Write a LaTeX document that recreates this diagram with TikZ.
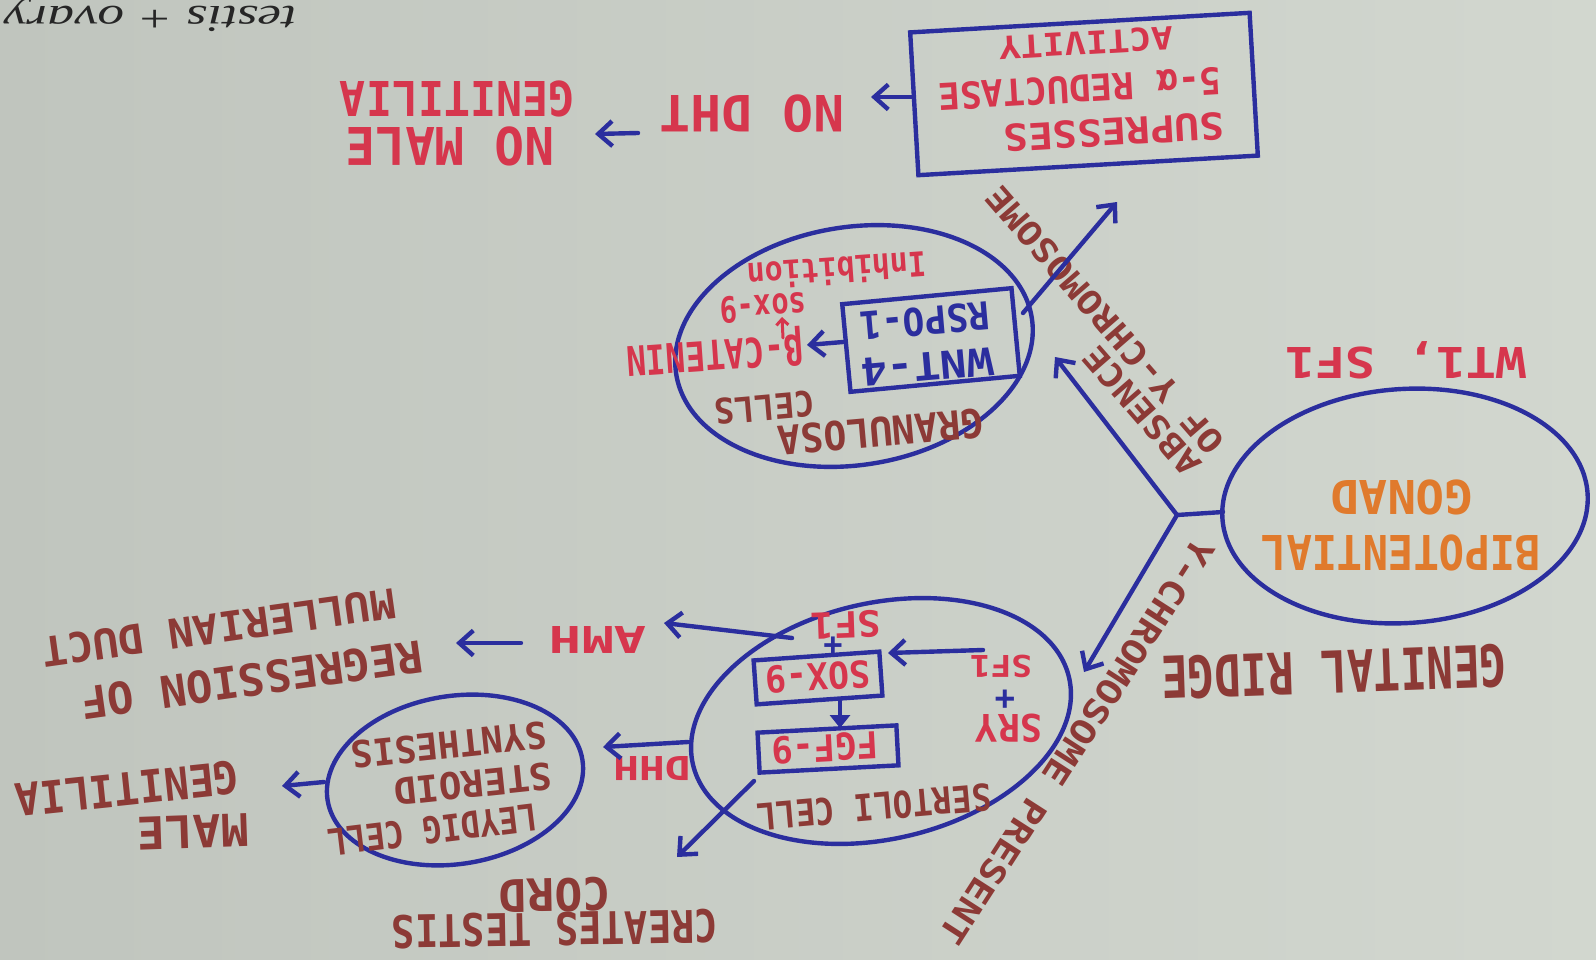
\documentclass[tikz,border=0pt]{standalone}
\usepackage{fontspec}
\usepackage{graphicx}
\usetikzlibrary{arrows.meta,shapes.geometric}
\newfontfamily\hwf{DejaVu Sans Mono}
\newfontfamily\penf{Liberation Serif}
\definecolor{paperL}{HTML}{C0C5BE}
\definecolor{paperR}{HTML}{D2D7CF}
\definecolor{ink}{HTML}{2B2E9E}
\definecolor{rd}{HTML}{D6364D}
\definecolor{brn}{HTML}{8C3A36}
\definecolor{org}{HTML}{E07A2C}
% marker lettering: font size (pt), horizontal stretch, text
\newcommand\hw[3]{\scalebox{#2}[1]{\fontsize{#1pt}{#1pt}\selectfont\hwf\bfseries #3}}

\begin{document}
\begin{tikzpicture}[x=1pt,y=-1pt,
  ln/.style={draw=ink, line width=4.4pt, line cap=round, line join=round},
  arr/.style={ln, -{Straight Barb[length=14pt,width=25pt]}},
  lbl/.style={inner sep=0pt, outer sep=0pt},
  oval/.style={ellipse, draw=ink, line width=4.4pt, inner sep=0pt, outer sep=0pt},
  card/.style={rectangle, draw=ink, line width=4.4pt, inner sep=0pt, outer sep=0pt}]

% paper
\shade[left color=paperL, right color=paperR] (0,0) rectangle (1596,960);
\useasboundingbox (0,0) rectangle (1596,960);
\clip (0,0) rectangle (1596,960);

% pen note along the edge
\node[lbl, anchor=base, rotate=180, text=black!85] (note) at (150,7)
  {\scalebox{1.4}[1]{\fontsize{38pt}{38pt}\selectfont\penf\itshape testis + ovary}};

% ---------- frames ----------
\node[card, minimum width=340pt, minimum height=143pt, rotate=3.3] (sup) at (1084,94) {};
\node[card, minimum width=170pt, minimum height=88pt, rotate=5.4] (wnt) at (931,340) {};
\node[card, minimum width=126pt, minimum height=44pt, rotate=4] (soxb) at (818,678) {};
\node[card, minimum width=139pt, minimum height=40pt, rotate=3] (fgfb) at (828,749) {};
\node[oval, minimum width=366pt, minimum height=234pt, rotate=4] (gonad) at (1405,506) {};
\node[oval, minimum width=360pt, minimum height=238pt, rotate=9] (gran) at (854,346) {};
\node[oval, minimum width=386pt, minimum height=236pt, rotate=13] (sert) at (881,721) {};
\node[oval, minimum width=258pt, minimum height=168pt, rotate=9] (leyd) at (455,780) {};

% ---------- lettering ----------
% suppression box
\node[lbl, text=rd, rotate=183.3] (t-act) at (1086,43) {\hw{31.5}{1.15}{ACTIVITY}};
\node[lbl, text=rd, rotate=183.3] (t-red) at (1080,89) {\hw{37}{0.98}{5-α REDUCTASE}};
\node[lbl, text=rd, rotate=183.3] (t-sup) at (1114,132) {\hw{37}{1.1}{SUPRESSES}};
\node[lbl, text=rd, rotate=180] (t-dht) at (752,114) {\hw{50}{1.02}{NO DHT}};
\node[lbl, text=rd, rotate=180] (t-nomale) at (450,146) {\hw{52}{0.95}{NO MALE}};
\node[lbl, text=rd, rotate=180] (t-nogen) at (457,99) {\hw{48}{0.9}{GENITILIA}};

% gonad
\node[lbl, text=rd, rotate=180] (t-wt) at (1406,360) {\hw{42.5}{1.18}{WT1, SF1}};
\node[lbl, text=org, rotate=180] (t-bip) at (1401,553) {\hw{48}{0.88}{BIPOTENTIAL}};
\node[lbl, text=org, rotate=180] (t-gon) at (1402,497) {\hw{46.6}{1.02}{GONAD}};
\node[lbl, text=brn, rotate=182] (t-ridge) at (1334,672) {\hw{58}{0.76}{GENITAL RIDGE}};

% branch labels
\node[lbl, text=brn, rotate=131] (t-abs) at (1142,411) {\hw{33}{1.15}{ABSENCE}};
\node[lbl, text=brn, rotate=131] (t-ofy) at (1105,320) {\hw{33}{1.15}{OF Y-CHROMOSOME}};
\node[lbl, text=brn, rotate=237.2] (t-ypres) at (1077,742) {\hw{34}{1.16}{Y-CHROMOSOME PRESENT}};

% granulosa cells
\node[lbl, text=ink, rotate=185] (t-wnt) at (927,367) {\hw{38.4}{1.15}{WNT-4}};
\node[lbl, text=ink, rotate=185] (t-rspo) at (925,321) {\hw{38.4}{0.94}{RSPO-1}};
\node[lbl, text=rd, rotate=184] (t-bcat) at (715,352) {\hw{41}{0.8}{β-CATENIN}};
\node[lbl, text=rd, rotate=184] (t-sox) at (763,308) {\hw{36}{0.8}{sox-9}};
\node[lbl, text=rd, rotate=184] (t-inh) at (837,271) {\hw{34}{0.88}{Inhibition}};
\node[lbl, text=brn, rotate=185] (t-gran) at (881,432) {\hw{40}{0.95}{GRANULOSA}};
\node[lbl, text=brn, rotate=185] (t-cells) at (765,408) {\hw{35}{0.95}{CELLS}};

% sertoli cell
\node[lbl, text=brn, rotate=185] (t-sert) at (874,807) {\hw{37}{0.88}{SERTOLI CELL}};
\node[lbl, text=rd, rotate=184] (t-sox9) at (818,677) {\hw{37}{0.94}{SOX-9}};
\node[lbl, text=rd, rotate=183] (t-fgf) at (825,748) {\hw{37}{0.96}{FGF-9}};
\node[lbl, text=rd, rotate=180] (t-sf1a) at (1001,666) {\hw{30}{1.15}{SF1}};
\node[lbl, text=ink, rotate=180] (t-plusa) at (1005,698) {\hw{34}{1}{+}};
\node[lbl, text=rd, rotate=180] (t-sry) at (1009,728) {\hw{38}{0.97}{SRY}};
\node[lbl, text=rd, rotate=182] (t-sf1b) at (846,625) {\hw{36}{1.08}{SF1}};
\node[lbl, text=ink, rotate=180] (t-plusb) at (833,645) {\hw{32}{1}{+}};

% outcomes
\node[lbl, text=rd, rotate=180] (t-amh) at (598,640) {\hw{37}{1.45}{AMH}};
\node[lbl, text=rd, rotate=180] (t-dhh) at (652,769) {\hw{33}{1.3}{DHH}};
\node[lbl, text=brn, rotate=188] (t-regr) at (252,680) {\hw{44}{1.0}{REGRESSION OF}};
\node[lbl, text=brn, rotate=188] (t-mull) at (219,628) {\hw{41}{1.03}{MULLERIAN DUCT}};
\node[lbl, text=brn, rotate=182] (t-male) at (193,832) {\hw{45}{1.03}{MALE}};
\node[lbl, text=brn, rotate=186] (t-mgen) at (127,789) {\hw{45}{0.92}{GENITILIA}};
\node[lbl, text=brn, rotate=187] (t-leyd) at (433,830) {\hw{37}{0.86}{LEYDIG CELL}};
\node[lbl, text=brn, rotate=186] (t-ster) at (473,784) {\hw{37}{1.02}{STEROID}};
\node[lbl, text=brn, rotate=186] (t-syn) at (449,745) {\hw{37}{0.98}{SYNTHESIS}};
\node[lbl, text=brn, rotate=181] (t-creat) at (555,929) {\hw{45}{0.86}{CREATES TESTIS}};
\node[lbl, text=brn, rotate=181] (t-cord) at (555,895) {\hw{45}{1.03}{CORD}};

% ---------- connector ends ----------
\coordinate (j) at (1177,515);
\coordinate (gw) at (1223,512);
\coordinate (up-tip) at (1055,357);
\coordinate (lo-tip) at (1084,672);
\coordinate (wnt-out) at (1023,313);
\coordinate (wnt-tip) at (1117,202);
\coordinate (sup-out) at (913,97);
\coordinate (sup-tip) at (871,97);
\coordinate (dht-out) at (638,133);
\coordinate (dht-tip) at (595,134);
\coordinate (wnt-in) at (843,342);
\coordinate (bcat-tip) at (807,345);
\coordinate (bcat-out) at (783,338);
\coordinate (sox-tip) at (782,317);
\coordinate (sry-out) at (983,650);
\coordinate (sry-tip) at (888,653);
\coordinate (soxb-out) at (840,701);
\coordinate (fgfb-tip) at (840,728);
\coordinate (amh-out) at (792,638);
\coordinate (amh-tip) at (664,623);
\coordinate (amh-r) at (521,643);
\coordinate (amh-l) at (456,643);
\coordinate (dhh-out) at (688,742);
\coordinate (dhh-tip) at (603,747);
\coordinate (leyd-out) at (324,782);
\coordinate (leyd-tip) at (282,786);
\coordinate (cord-out) at (754,781);
\coordinate (cord-tip) at (677,857);

% ---------- connectors ----------
\draw[ln] (j) -- (gw);
\draw[arr] (j) -- (up-tip);
\draw[arr] (j) -- (lo-tip);
\draw[arr] (wnt-out) -- (wnt-tip);
\draw[arr] (sup-out) -- (sup-tip);
\draw[arr] (dht-out) -- (dht-tip);
\draw[arr] (wnt-in) -- (bcat-tip);
\draw[draw=rd, line width=3pt, line cap=round, -{Straight Barb[length=6pt,width=12pt]}] (bcat-out) -- (sox-tip);
\draw[arr] (sry-out) -- (sry-tip);
\draw[ln, -{Triangle[length=13pt,width=20pt]}] (soxb-out) -- (fgfb-tip);
\draw[arr] (amh-out) -- (amh-tip);
\draw[arr] (amh-r) -- (amh-l);
\draw[arr] (dhh-out) -- (dhh-tip);
\draw[arr] (leyd-out) -- (leyd-tip);
\draw[arr] (cord-out) -- (cord-tip);
\end{tikzpicture}
\end{document}
